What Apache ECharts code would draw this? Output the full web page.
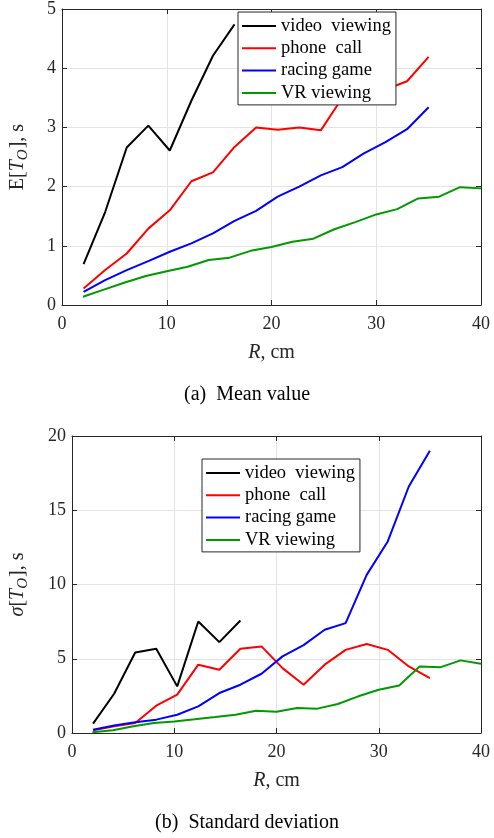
<!DOCTYPE html>
<html>
<head>
<meta charset="utf-8">
<script src="https://cdn.jsdelivr.net/npm/echarts@6/dist/echarts.min.js"></script>
<style>html,body{margin:0;padding:0;background:#fff;}#c{width:494px;height:838px;}</style>
</head>
<body>
<div id="c"></div>
<script>
// ---- data ----
var seriesNames = ['video  viewing', 'phone  call', 'racing game', 'VR viewing'];
var xTicks = [0, 10, 20, 30, 40];
// R values (cm) for the first three scenarios
var rMain = [2.06, 4.12, 6.18, 8.24, 10.29, 12.35, 14.41, 16.47, 18.53, 20.59, 22.65, 24.71, 26.76, 28.82, 30.88, 32.94, 35.0];
// R values (cm) for VR viewing
var rVR = [2, 4, 6, 8, 10, 12, 14, 16, 18, 20, 22, 24, 26, 28, 30, 32, 34, 36, 38, 40];

// (a) mean value E[T_O], s
var meanVideo = [0.69, 1.57, 2.66, 3.03, 2.61, 3.45, 4.21, 4.74];
var meanPhone = [0.28, 0.59, 0.87, 1.29, 1.60, 2.09, 2.24, 2.67, 3.00, 2.96, 3.00, 2.95, 3.50, 3.60, 3.64, 3.78, 4.19];
var meanRacing = [0.22, 0.42, 0.59, 0.74, 0.90, 1.04, 1.21, 1.42, 1.59, 1.83, 2.00, 2.19, 2.33, 2.56, 2.75, 2.97, 3.34];
var meanVR = [0.14, 0.26, 0.38, 0.49, 0.57, 0.645, 0.76, 0.80, 0.915, 0.98, 1.07, 1.12, 1.28, 1.40, 1.53, 1.62, 1.80, 1.83, 1.99, 1.97];

// (b) standard deviation sigma[T_O], s
var stdVideo = [0.63, 2.64, 5.42, 5.67, 3.14, 7.51, 6.12, 7.58];
var stdPhone = [0.18, 0.45, 0.67, 1.84, 2.58, 4.60, 4.26, 5.67, 5.83, 4.37, 3.25, 4.60, 5.60, 5.99, 5.60, 4.48, 3.70];
var stdRacing = [0.22, 0.50, 0.72, 0.90, 1.23, 1.79, 2.69, 3.25, 3.99, 5.16, 5.92, 6.95, 7.40, 10.65, 12.90, 16.60, 19.00];
var stdVR = [0.05, 0.18, 0.45, 0.67, 0.78, 0.92, 1.07, 1.23, 1.50, 1.43, 1.68, 1.64, 1.95, 2.47, 2.91, 3.20, 4.48, 4.42, 4.89, 4.66];

var colors = ['#000000', '#ff0000', '#0000ff', '#009900'];

// ---- build ----
function pairs(xs, ys) { return ys.map(function (v, i) { return [xs[i], v]; }); }
var FONT = '"Liberation Serif"';
var AX = '#262626';
var GRIDC = '#e3e3e3';

var grids = [
  { left: 60, right: 13, top: 8, height: 297 },
  { left: 70, right: 13, top: 436, height: 297 }
];

function xMain(gi) {
  return {
    type: 'value', gridIndex: gi, min: 0, max: 40, interval: 10,
    position: 'bottom',
    axisLine: { show: true, onZero: false, lineStyle: { color: AX, width: 1 } },
    axisTick: { show: true, inside: true, length: 5, lineStyle: { color: AX } },
    axisLabel: { color: AX, fontFamily: FONT, fontSize: 18, margin: 10 },
    splitLine: { show: true, lineStyle: { color: GRIDC, width: 1 } },
    name: '{i|R}{n|, cm}', nameLocation: 'middle', nameGap: 38,
    nameTextStyle: { rich: {
      i: { fontFamily: FONT, fontSize: 20, fontStyle: 'italic', color: AX },
      n: { fontFamily: FONT, fontSize: 20, color: AX }
    } }
  };
}
function xTop(gi) {
  return {
    type: 'value', gridIndex: gi, min: 0, max: 40, interval: 10, position: 'top',
    axisLine: { show: true, onZero: false, lineStyle: { color: AX, width: 1 } },
    axisTick: { show: true, inside: true, length: 5, lineStyle: { color: AX } },
    axisLabel: { show: false }, splitLine: { show: false }
  };
}
function yMain(gi, max, interval, nameStr, gap) {
  return {
    type: 'value', gridIndex: gi, min: 0, max: max, interval: interval, position: 'left',
    axisLine: { show: true, onZero: false, lineStyle: { color: AX, width: 1 } },
    axisTick: { show: true, inside: true, length: 5, lineStyle: { color: AX } },
    axisLabel: { color: AX, fontFamily: FONT, fontSize: 18, margin: 6 },
    splitLine: { show: true, lineStyle: { color: GRIDC, width: 1 } },
    name: nameStr, nameLocation: 'middle', nameGap: gap, nameRotate: 90,
    nameTextStyle: { rich: {
      n: { fontFamily: FONT, fontSize: 20, color: AX, lineHeight: 30 },
      i: { fontFamily: FONT, fontSize: 20, fontStyle: 'italic', color: AX, lineHeight: 30 },
      s: { fontFamily: FONT, fontSize: 15, fontStyle: 'italic', color: AX, verticalAlign: 'bottom', padding: [0, 1, 2, 0] }
    } }
  };
}
function yRight(gi, max, interval) {
  return {
    type: 'value', gridIndex: gi, min: 0, max: max, interval: interval, position: 'right',
    axisLine: { show: true, onZero: false, lineStyle: { color: AX, width: 1 } },
    axisTick: { show: true, inside: true, length: 5, lineStyle: { color: AX } },
    axisLabel: { show: false }, splitLine: { show: false }
  };
}

var sets = [
  [[rMain, meanVideo], [rMain, meanPhone], [rMain, meanRacing], [rVR, meanVR]],
  [[rMain, stdVideo], [rMain, stdPhone], [rMain, stdRacing], [rVR, stdVR]]
];
var series = [];
sets.forEach(function (set, gi) {
  set.forEach(function (d, k) {
    series.push({
      type: 'line', name: seriesNames[k], xAxisIndex: gi * 2, yAxisIndex: gi * 2,
      data: pairs(d[0], d[1]), symbol: 'none', silent: true, animation: false,
      lineStyle: { color: colors[k], width: 2 }, itemStyle: { color: colors[k] },
      z: 3 + k
    });
  });
});

function legend(left, top) {
  return {
    data: seriesNames.map(function (n) { return { name: n, icon: 'rect' }; }),
    orient: 'vertical', left: left, top: top,
    itemWidth: 34, itemHeight: 2, itemGap: 0.3,
    padding: [3, 5, 1, 4],
    backgroundColor: '#fff', borderColor: AX, borderWidth: 1,
    textStyle: { fontFamily: FONT, fontSize: 18.5, color: '#000', lineHeight: 22 },
    selectedMode: false, z: 10
  };
}

var option = {
  animation: false,
  grid: grids,
  xAxis: [xMain(0), xTop(0), xMain(1), xTop(1)],
  yAxis: [
    yMain(0, 5, 1, '{n|E[}{i|T}{s|O}{n|], s}', 29), yRight(0, 5, 1),
    yMain(1, 20, 5, '{i|σ}{n|[}{i|T}{s|O}{n|], s}', 39), yRight(1, 20, 5)
  ],
  legend: [legend(238, 12), legend(202, 459)],
  series: series,
  graphic: [
    { type: 'text', left: 'center', top: 385, style: { text: '(a)  Mean value', font: '20px "Liberation Serif"', fill: '#000' } },
    { type: 'text', left: 'center', top: 813, style: { text: '(b)  Standard deviation', font: '20px "Liberation Serif"', fill: '#000' } }
  ]
};
var chart = echarts.init(document.getElementById('c'), null, { renderer: 'canvas' });
chart.setOption(option);
</script>
</body>
</html>
